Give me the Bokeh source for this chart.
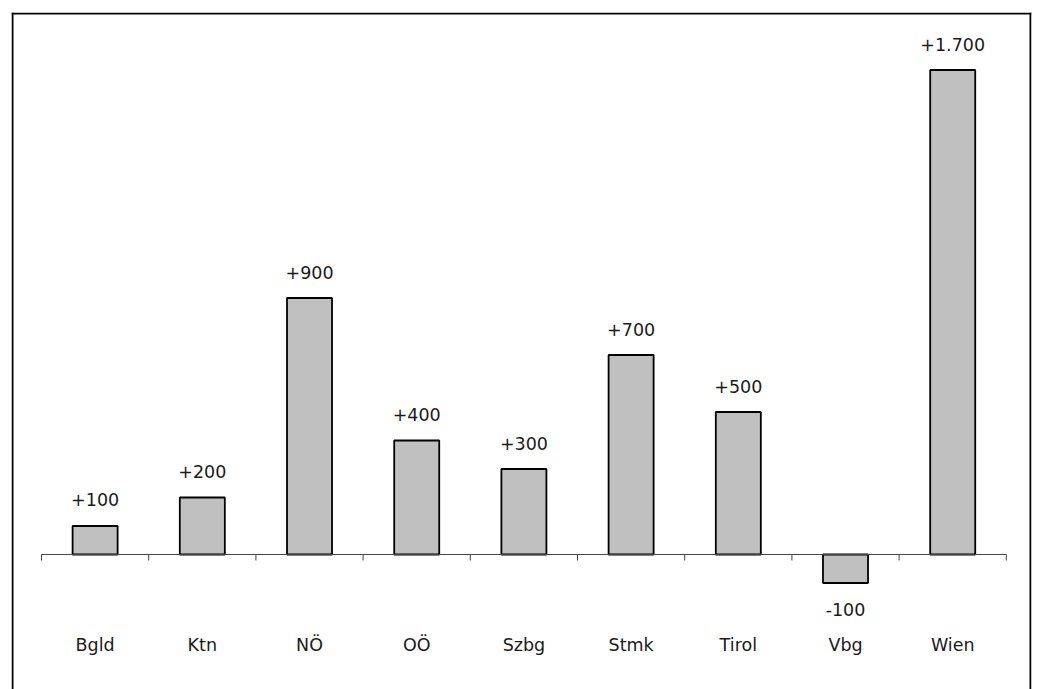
from bokeh.plotting import figure
from bokeh.models import ColumnDataSource, Range1d, Span
from bokeh.core.properties import value
from bokeh.embed import file_html
from bokeh.resources import INLINE

# Regions and their change values
regions = ["Bgld", "Ktn", "NÖ", "OÖ", "Szbg", "Stmk", "Tirol", "Vbg", "Wien"]
changes = [100, 200, 900, 400, 300, 700, 500, -100, 1700]


def fmt(v):
    sign = "+" if v > 0 else "-"
    return sign + f"{abs(v):,}".replace(",", ".")


n = len(regions)
xs = [i + 0.5 for i in range(n)]

src = ColumnDataSource(dict(
    x=xs,
    top=[max(v, 0) for v in changes],
    bottom=[min(v, 0) for v in changes],
    val=changes,
    label=[fmt(v) for v in changes],
))

W, H = 1039, 689
ML, MT, MR, MB = 11, 12, 8, 0

x_rng = Range1d(-0.28, 9.235)
y_rng = Range1d(-473.7, 1901.8)

p = figure(width=W, height=H, output_backend="svg", toolbar_location=None,
           x_range=x_rng, y_range=y_rng,
           min_border_left=ML, min_border_top=MT,
           min_border_right=MR, min_border_bottom=MB)
p.axis.visible = False
p.grid.visible = False
p.outline_line_color = None
p.background_fill_color = "white"
p.border_fill_color = "white"

FONT = "DejaVu Sans"
FSIZE = "17.5px"
TCOL = "#1a1a1a"

# bars
p.vbar(x="x", top="top", bottom="bottom", width=0.42, source=src,
       fill_color="#c0c0c0", line_color="black", line_width=1.8)

# zero line with category boundary ticks
px_per_unit = (H - MT - MB) / (y_rng.end - y_rng.start)
px_per_x = (W - ML - MR) / (x_rng.end - x_rng.start)
tick_len = 6 / px_per_unit
p.line([0, n], [0, 0], line_color="#444444", line_width=1)
p.segment(x0=list(range(n + 1)), y0=[0] * (n + 1),
          x1=list(range(n + 1)), y1=[-tick_len] * (n + 1),
          line_color="#444444", line_width=1)

# value labels above positive bars, below negative bars
pos = ColumnDataSource(dict(
    x=[x for x, v in zip(xs, changes) if v > 0],
    y=[v for v in changes if v > 0],
    t=[fmt(v) for v in changes if v > 0]))
neg = ColumnDataSource(dict(
    x=[x for x, v in zip(xs, changes) if v < 0],
    y=[v for v in changes if v < 0],
    t=[fmt(v) for v in changes if v < 0]))
p.text(x="x", y="y", text="t", source=pos, text_align="center",
       text_baseline="middle", y_offset=-26,
       text_font=value(FONT), text_font_size=FSIZE, text_color=TCOL)
p.text(x="x", y="y", text="t", source=neg, text_align="center",
       text_baseline="middle", y_offset=27,
       text_font=value(FONT), text_font_size=FSIZE, text_color=TCOL)

# category labels
label_y = -(645 - 554) / px_per_unit
p.text(x=xs, y=[label_y] * n, text=regions, text_align="center",
       text_baseline="middle", text_font=value(FONT),
       text_font_size=FSIZE, text_color=TCOL)

# frame lines: top, left, right (pulled 1px inside the frame so they are not clipped)
dy = 1 / px_per_unit
dx = 1 / px_per_x
for loc, dim in [(y_rng.end - dy, "width"),
                 (x_rng.start + dx, "height"),
                 (x_rng.end - dx, "height")]:
    p.add_layout(Span(location=loc, dimension=dim, line_color="black", line_width=2))

open("out.html", "w").write(file_html(p, INLINE))
